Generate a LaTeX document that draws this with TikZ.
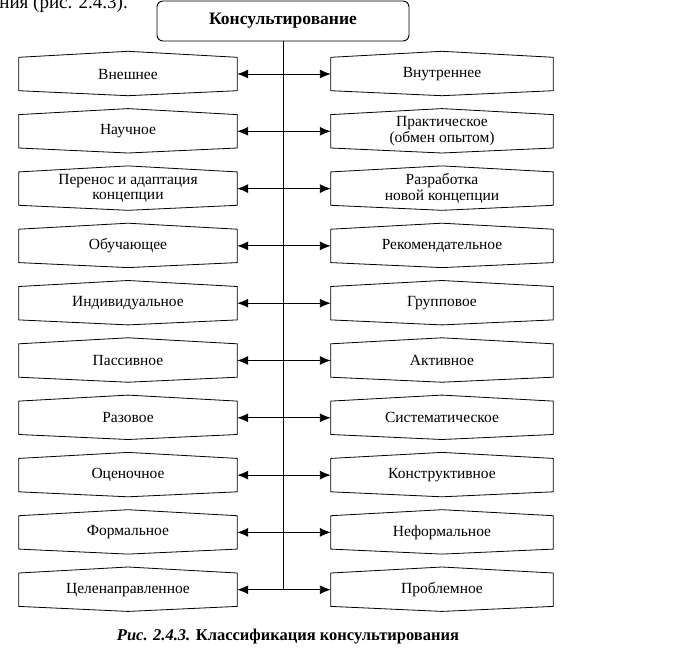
\documentclass[tikz,border=0pt]{standalone}
\usepackage{fontspec}
\setmainfont{Liberation Serif}
\usetikzlibrary{arrows.meta,calc}
\begin{document}
\begin{tikzpicture}[x=1pt,y=-1pt,
  lbl/.style={font=\fontsize{15.5}{15.5}\selectfont, align=center, inner sep=0pt},
  hexl/.style={lbl, minimum width=218pt, minimum height=33pt},
  hexr/.style={lbl, minimum width=222pt, minimum height=33pt},
  topbox/.style={draw, rounded corners=6pt, minimum width=252pt, minimum height=40pt, inner sep=0pt, line width=0.9pt, font=\fontsize{17.5}{18}\selectfont\bfseries},
  link/.style={line width=0.9pt, {Latex[length=11pt,width=9pt]}-{Latex[length=11pt,width=9pt]}},
  edge/.style={line width=0.8pt}
]
\useasboundingbox (0,0) rectangle (675,659);
\begin{scope}
\clip (0,0) rectangle (675,659);
\node[anchor=base east, font=\fontsize{19}{20}\selectfont, inner sep=0pt] (pre) at (128,8) {ния (рис. 2.4.3).};
\end{scope}
\node[topbox] (top) at (283,21) {Консультирование};

\foreach \i/\lt/\rt in {
  1/Внешнее/Внутреннее,
  2/Научное/{Практическое\\(обмен опытом)},
  3/{Перенос и адаптация\\концепции}/{Разработка\\новой концепции},
  4/Обучающее/Рекомендательное,
  5/Индивидуальное/Групповое,
  6/Пассивное/Активное,
  7/Разовое/Систематическое,
  8/Оценочное/Конструктивное,
  9/Формальное/Неформальное,
  10/Целенаправленное/Проблемное}{
  \pgfmathsetmacro{\yy}{74+57.3*(\i-1)}
  \node[hexl] (L\i) at (128,\yy) {\lt};
  \node[hexr] (R\i) at (442,\yy) {\rt};
  \foreach \n in {L\i,R\i}{
    \draw[edge] (\n.north west) -- ($(\n.north)+(0,-6)$) -- (\n.north east) -- (\n.south east) -- ($(\n.south)+(0,5)$) -- (\n.south west) -- cycle;
  }
  \draw[link] (L\i.east) -- (R\i.west);
}
\draw[edge] (top.south) -- (top.south |- L10.east);

\node[anchor=base, font=\fontsize{16.5}{18}\selectfont\bfseries, inner sep=0pt] (cap) at (288,640) {\textit{Рис. 2.4.3.} Классификация консультирования};
\end{tikzpicture}
\end{document}
